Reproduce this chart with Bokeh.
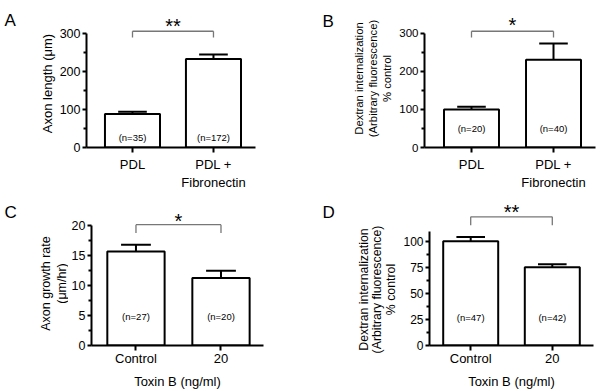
import math
from bokeh.plotting import figure
from bokeh.layouts import column, row
from bokeh.models import Range1d, FixedTicker
from bokeh.embed import file_html
from bokeh.resources import INLINE
from bokeh.core.properties import value

FONT = "Liberation Sans"

# ---------------- data ----------------
a_cats = ["PDL", "PDL +\nFibronectin"]
a_means = [88, 232]
a_sem = [6, 12]
a_n = ["(n=35)", "(n=172)"]
a_sig = "**"
a_ylabel = ["Axon length (\u03bcm)"]

b_cats = ["PDL", "PDL +\nFibronectin"]
b_means = [100, 230]
b_sem = [7, 43]
b_n = ["(n=20)", "(n=40)"]
b_sig = "*"
b_ylabel = ["Dextran internalization", "(Arbitrary fluorescence)", "% control"]

c_cats = ["Control", "20"]
c_means = [15.7, 11.3]
c_sem = [1.15, 1.2]
c_n = ["(n=27)", "(n=20)"]
c_sig = "*"
c_ylabel = ["Axon growth rate", "(\u03bcm/hr)"]
c_xlabel = "Toxin B (ng/ml)"

d_cats = ["Control", "20"]
d_means = [100, 75]
d_sem = [4, 3]
d_n = ["(n=47)", "(n=42)"]
d_sig = "**"
d_ylabel = ["Dextran internalization", "(Arbitrary fluorescence)", "% control"]
d_xlabel = "Toxin B (ng/ml)"

a_yticks = [0, 100, 200, 300]
b_yticks = [0, 100, 200, 300]
c_yticks = [0, 5, 10, 15, 20]
d_yticks = [0, 25, 50, 75, 100]


def side(letter, lines, width, height, letter_xy, line_x, line_y, font_px):
    """Narrow figure holding the panel letter and the rotated y-axis title."""
    s = figure(width=width, height=height, output_backend="svg",
               toolbar_location=None, x_range=Range1d(0, width),
               y_range=Range1d(height, 0), x_axis_type=None, y_axis_type=None,
               min_border=0, min_border_left=0, min_border_right=0,
               min_border_top=0, min_border_bottom=0, frame_align=False)
    s.outline_line_color = None
    s.xgrid.visible = False
    s.ygrid.visible = False
    s.text(x=[letter_xy[0]], y=[letter_xy[1]], text=[letter],
           text_font=value(FONT), text_font_size="17px", text_align="left",
           text_baseline="top", text_color="black")
    s.text(x=line_x, y=[line_y] * len(lines), text=lines, angle=math.pi / 2,
           text_font=value(FONT), text_font_size=font_px, text_align="center",
           text_baseline="middle", text_color="black")
    return s


def panel(cats, means, sem, nlab, sig, yticks, xlabel, width, height, mb, xr, yr,
          bounds, bar_w, n_y, br_y, br_drop, sig_y, ytick_px, xstandoff):
    p = figure(width=width, height=height, output_backend="svg",
               toolbar_location=None, x_range=Range1d(*xr), y_range=Range1d(*yr),
               min_border_left=mb[0], min_border_right=mb[1],
               min_border_top=mb[2], min_border_bottom=mb[3], frame_align=False)
    p.outline_line_color = None
    p.xgrid.visible = False
    p.ygrid.visible = False

    xs = list(range(len(cats)))
    p.vbar(x=xs, top=means, bottom=0, width=bar_w, fill_color="white",
           line_color="black", line_width=2)
    tops = [m + s for m, s in zip(means, sem)]
    p.segment(x0=xs, y0=means, x1=xs, y1=tops, line_color="black", line_width=2)
    cw = bar_w * 0.26
    p.segment(x0=[x - cw for x in xs], y0=tops, x1=[x + cw for x in xs], y1=tops,
              line_color="black", line_width=2)
    p.text(x=xs, y=[n_y] * len(xs), text=nlab, text_font=value(FONT),
           text_font_size="9.5px", text_align="center", text_baseline="middle",
           text_color="black")

    # significance bracket
    p.segment(x0=[xs[0], xs[0], xs[-1]], y0=[br_y, br_y, br_y],
              x1=[xs[-1], xs[0], xs[-1]], y1=[br_y, br_drop, br_drop],
              line_color="#777777", line_width=1.3)
    p.text(x=[(xs[0] + xs[-1]) / 2], y=[sig_y], text=[sig], text_font=value(FONT),
           text_font_size="20px", text_align="center", text_baseline="middle",
           text_color="black")

    ya = p.yaxis[0]
    ya.ticker = FixedTicker(ticks=yticks,
                            minor_ticks=[(yticks[i] + yticks[i + 1]) / 2
                                         for i in range(len(yticks) - 1)])
    ya.bounds = bounds
    ya.axis_line_width = 2
    ya.major_tick_line_width = 2
    ya.minor_tick_line_width = 2
    ya.major_tick_in = 0
    ya.major_tick_out = 4
    ya.minor_tick_in = 0
    ya.minor_tick_out = 3
    ya.major_label_standoff = 2
    ya.major_label_text_font = FONT
    ya.major_label_text_font_size = ytick_px
    ya.major_label_text_color = "black"

    xa = p.xaxis[0]
    xa.ticker = FixedTicker(ticks=xs, minor_ticks=[])
    xa.major_label_overrides = {i: c for i, c in enumerate(cats)}
    xa.axis_line_width = 2
    xa.major_tick_line_width = 2
    xa.major_tick_in = 0
    xa.major_tick_out = 5
    xa.minor_tick_out = 0
    xa.major_label_standoff = xstandoff
    xa.major_label_text_font = FONT
    xa.major_label_text_font_size = "13px"
    xa.major_label_text_color = "black"
    if xlabel:
        xa.axis_label = xlabel
        xa.axis_label_text_font = FONT
        xa.axis_label_text_font_size = "13px"
        xa.axis_label_text_font_style = "normal"
        xa.axis_label_text_color = "black"
        xa.axis_label_standoff = 5
    return p


H1, H2 = 192, 199

sa = side("A", a_ylabel, 56, H1, (4, 10), [46.5], 83, "13px")
pa = panel(a_cats, a_means, a_sem, a_n, a_sig, a_yticks, None,
           244, H1, (30, 45, 10, 45), (-0.568, 1.519), (0, 359.6), (0, 300), 0.68,
           27, 305.2, 288.7, 318.4, "12.5px", 4)

sb = side("B", b_ylabel, 96, H1, (22, 11), [58, 72, 86], 78, "11.3px")
pb = panel(b_cats, b_means, b_sem, b_n, b_sig, b_yticks, None,
           204, H1, (28, 5, 10, 45), (-0.573, 1.512), (0, 359.6), (0, 300), 0.67,
           50, 305.2, 288.7, 321, "11.5px", 4)

sc = side("C", c_ylabel, 68, H2, (4, 10), [45, 61.5], 91, "12.5px")
pc = panel(c_cats, c_means, c_sem, c_n, c_sig, c_yticks, c_xlabel,
           232, H2, (21, 37, 10, 46), (-0.523, 1.5), (0, 23.9), (0, 20), 0.674,
           4.8, 20.2, 18.8, 20.8, "12.5px", 0)

sd = side("D", d_ylabel, 100, H2, (22, 10), [63, 76, 90], 97, "12.3px")
pd_ = panel(d_cats, d_means, d_sem, d_n, d_sig, d_yticks, d_xlabel,
            200, H2, (29, 7, 10, 46), (-0.505, 1.505), (0, 137.1), (0, 109), 0.674,
            27, 123.4, 115.3, 127.8, "12px", 0)

layout = column(row(sa, pa, sb, pb), row(sc, pc, sd, pd_))
open("out.html", "w").write(file_html(layout, INLINE))
